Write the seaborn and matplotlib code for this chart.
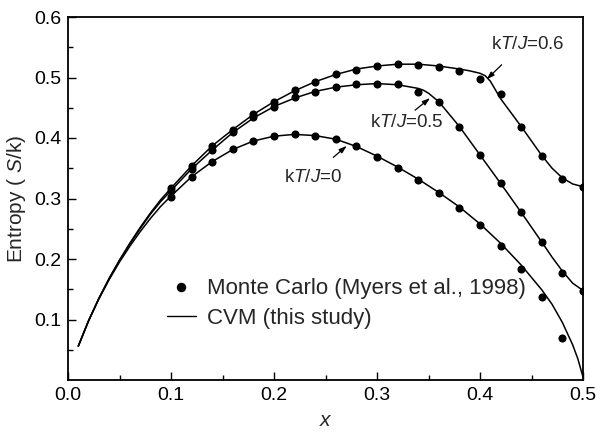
import matplotlib
matplotlib.use("Agg")
import matplotlib.pyplot as plt
import seaborn as sns
import numpy as np
import pandas as pd
from matplotlib.lines import Line2D

# Monte Carlo data (Myers et al., 1998)
mc_x = [0.10, 0.12, 0.14, 0.16, 0.18, 0.20, 0.22, 0.24, 0.26, 0.28, 0.30,
        0.32, 0.34, 0.36, 0.38, 0.40, 0.42, 0.44, 0.46, 0.48, 0.50]
mc_kt0 = [0.303, 0.336, 0.361, 0.381, 0.3955, 0.403, 0.406, 0.404, 0.398, 0.386, 0.369,
          0.351, 0.331, 0.309, 0.285, 0.256, 0.2215, 0.183, 0.138, 0.069]
mc_kt05 = [0.313, 0.349, 0.380, 0.410, 0.434, 0.452, 0.467, 0.4765, 0.485, 0.489, 0.490,
           0.489, 0.4765, 0.460, 0.419, 0.372, 0.325, 0.277, 0.2276, 0.177, 0.147]
mc_kt06 = [0.317, 0.354, 0.387, 0.414, 0.440, 0.460, 0.479, 0.493, 0.505, 0.513, 0.519,
           0.522, 0.521, 0.517, 0.510, 0.497, 0.473, 0.419, 0.371, 0.333, 0.3195]

# CVM curves
cvm_x0 = [0.01, 0.02, 0.03, 0.04, 0.05, 0.06, 0.07, 0.08, 0.09, 0.10, 0.12, 0.14, 0.16,
          0.18, 0.20, 0.22, 0.24, 0.26, 0.28, 0.30, 0.32, 0.34, 0.36, 0.38, 0.40, 0.42,
          0.44, 0.46, 0.47, 0.48, 0.49, 0.495, 0.50]
cvm_kt0 = [0.056, 0.098, 0.134, 0.166, 0.195, 0.221, 0.245, 0.267, 0.287, 0.304, 0.336,
           0.361, 0.381, 0.395, 0.403, 0.406, 0.404, 0.398, 0.386, 0.370, 0.352, 0.332,
           0.310, 0.286, 0.258, 0.226, 0.190, 0.149, 0.125, 0.095, 0.058, 0.035, 0.005]

cvm_x05 = [0.01, 0.02, 0.03, 0.04, 0.05, 0.06, 0.07, 0.08, 0.09, 0.10, 0.12, 0.14, 0.16,
           0.18, 0.20, 0.22, 0.24, 0.26, 0.28, 0.30, 0.32, 0.34, 0.345, 0.35, 0.36, 0.38,
           0.40, 0.42, 0.44, 0.46, 0.47, 0.48, 0.49, 0.50]
cvm_kt05 = [0.056, 0.098, 0.135, 0.168, 0.198, 0.225, 0.250, 0.274, 0.295, 0.313, 0.349,
            0.380, 0.409, 0.433, 0.452, 0.466, 0.477, 0.484, 0.488, 0.490, 0.488, 0.482,
            0.479, 0.474, 0.460, 0.419, 0.372, 0.325, 0.277, 0.228, 0.203, 0.180, 0.160, 0.148]

cvm_x06 = [0.01, 0.02, 0.03, 0.04, 0.05, 0.06, 0.07, 0.08, 0.09, 0.10, 0.12, 0.14, 0.16,
           0.18, 0.20, 0.22, 0.24, 0.26, 0.28, 0.30, 0.32, 0.34, 0.36, 0.38, 0.39, 0.40,
           0.405, 0.41, 0.42, 0.43, 0.44, 0.45, 0.46, 0.47, 0.48, 0.49, 0.50]
cvm_kt06 = [0.056, 0.098, 0.135, 0.168, 0.198, 0.226, 0.252, 0.276, 0.298, 0.317, 0.354,
            0.387, 0.414, 0.439, 0.460, 0.478, 0.493, 0.505, 0.514, 0.519, 0.522, 0.522,
            0.519, 0.514, 0.511, 0.507, 0.503, 0.494, 0.465, 0.442, 0.419, 0.395, 0.371,
            0.350, 0.334, 0.324, 0.3195]

x_ticks = [0.0, 0.1, 0.2, 0.3, 0.4, 0.5]
y_ticks = [0.1, 0.2, 0.3, 0.4, 0.5, 0.6]

sns.set_style("ticks")
plt.rcParams["font.family"] = ["Liberation Sans", "DejaVu Sans"]
plt.rcParams["mathtext.fontset"] = "custom"
plt.rcParams["mathtext.rm"] = "Liberation Sans"
plt.rcParams["mathtext.it"] = "Liberation Sans:italic"

fig = plt.figure(figsize=(6.01, 4.32), dpi=100)
ax = fig.add_axes([68 / 601, 1 - 380 / 432, 515 / 601, 363 / 432])

for cx, cy in [(cvm_x0, cvm_kt0), (cvm_x05, cvm_kt05), (cvm_x06, cvm_kt06)]:
    sns.lineplot(x=cx, y=cy, ax=ax, color="black", linewidth=1.1, estimator=None,
                 sort=False)

for my in [mc_kt0, mc_kt05, mc_kt06]:
    sns.scatterplot(x=mc_x[:len(my)], y=my, ax=ax, color="black", s=34,
                    edgecolor="black", linewidth=0, zorder=3)

ax.set_xlim(0, 0.5)
ax.set_ylim(0, 0.6)
ax.set_xticks(x_ticks)
ax.set_xticklabels([f"{v:.1f}" for v in x_ticks])
ax.set_yticks(y_ticks)
ax.set_yticklabels([f"{v:.1f}" for v in y_ticks])
ax.set_xticks(np.arange(0.05, 0.5, 0.1), minor=True)
ax.set_yticks(np.arange(0.05, 0.6, 0.1), minor=True)
ax.tick_params(which="both", direction="in", color="black", labelsize=14,
               labelcolor="black", width=1)
ax.tick_params(which="major", length=6, pad=5)
ax.tick_params(which="minor", length=3.5)
for sp in ax.spines.values():
    sp.set_visible(True)
    sp.set_color("black")
    sp.set_linewidth(1.3)

ax.set_xlabel("$\\it{x}$", fontsize=15, labelpad=5)
ax.set_ylabel("Entropy ( $\\it{S}$/k)", fontsize=15, labelpad=4)

# annotations
ann = [
    ("k$\\it{T}$/$\\it{J}$=0.6", (0.4466, 0.554), (0.421, 0.521), (0.4065, 0.497)),
    ("k$\\it{T}$/$\\it{J}$=0.5", (0.329, 0.425), (0.337, 0.446), (0.3515, 0.466)),
    ("k$\\it{T}$/$\\it{J}$=0", (0.2379, 0.3355), (0.2576, 0.368), (0.2706, 0.387)),
]
for txt, tpos, tail, tip in ann:
    ax.text(tpos[0], tpos[1], txt, fontsize=13.5, ha="center", va="center")
    ax.annotate("", xy=tip, xytext=tail,
                arrowprops=dict(arrowstyle="-|>,head_length=0.45,head_width=0.15",
                                color="black", lw=0.9, shrinkA=0, shrinkB=0))

handles = [Line2D([], [], marker="o", linestyle="none", color="black", markersize=5.8),
           Line2D([], [], color="black", linewidth=1.0)]
ax.legend(handles, ["Monte Carlo (Myers et al., 1998)", "CVM (this study)"],
          loc="upper left", bbox_to_anchor=(0.192, 0.28), frameon=False,
          fontsize=16, handlelength=1.3, handletextpad=0.5, labelspacing=0.4,
          borderaxespad=0, borderpad=0)

fig.savefig("out.png", dpi=100)
